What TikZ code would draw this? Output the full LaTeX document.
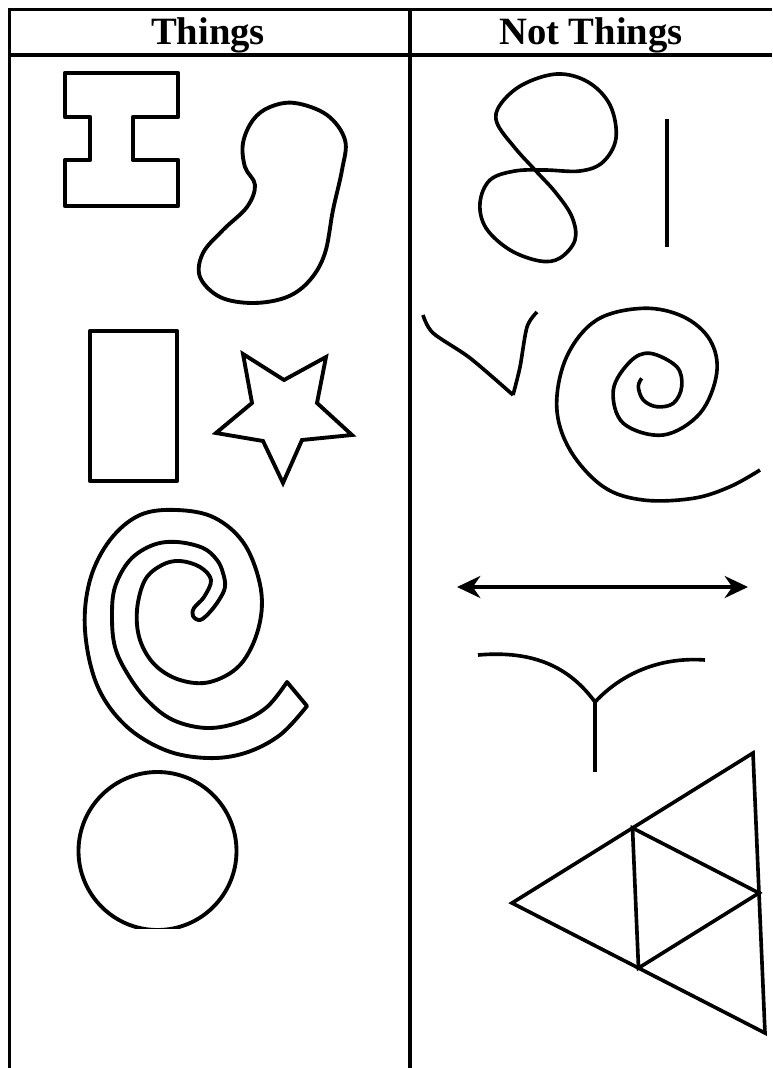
\documentclass[tikz,border=0pt]{standalone}
\usepackage{fontspec}
\setmainfont{Liberation Serif}
\usetikzlibrary{arrows.meta}

\begin{document}
\begin{tikzpicture}[x=0.03cm,y=-0.03cm,
    rule/.style={line width=2.6pt},
    outline/.style={line width=3.3pt,line join=round},
    pen/.style={line width=3.1pt,line join=round},
    head/.style={font=\bfseries\fontsize{33}{38}\selectfont,inner sep=0pt,anchor=base}]
    \useasboundingbox (0,0) rectangle (772,1068);
    % table rules
    \draw[rule] (8,9.5) -- (772,9.5);
    \draw[rule] (8,55) -- (772,55);
    \draw[rule] (9.5,8) -- (9.5,1068);
    \draw[rule] (410,9.5) -- (410,1068);
    \node[head] (things) at (208,45) {Things};
    \node[head] (notthings) at (591,45) {Not Things};
    % things: I-beam
    \draw[outline,line width=3.8pt] (65,73) -- (178,73) -- (178,117) -- (133,117) -- (133,160)
        -- (178,160) -- (178,206) -- (65,206) -- (65,160) -- (90,160) -- (90,117)
        -- (65,117) -- cycle;
    % bean
    \draw[outline] plot[smooth cycle,tension=0.6] coordinates {
        (295,103) (327,115) (345,140) (342,170) (333,210) (325,253) (310,280)
        (287,297) (253,303) (220,297) (200,277) (203,253) (223,230) (247,207)
        (255,185) (245,167) (243,143) (253,120) (270,107)};
    % rectangle and star
    \draw[outline,line width=3.8pt] (90,331) rectangle (177,481);
    \draw[outline,line join=miter] (243,354) -- (284,380) -- (326,357) -- (317,403) -- (352,435)
        -- (302,440) -- (283,483) -- (263,441) -- (216,433) -- (252,403) -- cycle;
    % band spiral
    \draw[outline] plot[smooth,tension=0.6] coordinates {
        (307,706) (280,735) (245,753) (207,758) (165,750) (125,725) (97,685)
        (85,630) (90,580) (110,540) (140,515) (177,510) (215,518) (245,545)
        (261,590) (258,630) (240,665) (210,682) (180,680) (155,665) (140,640)
        (137,610) (145,580) (162,565) (180,561) (200,567) (211,580) (204,597)
        (194,608) (193,616) (200,620) (209,613) (219,600) (225,587) (223,573)
        (217,560) (203,548) (177,542) (153,545) (130,560) (115,587) (112,617)
        (115,647) (127,673) (147,700) (173,720) (207,728) (240,722) (267,707)
        (287,682)} -- cycle;
    % circle, cut off at the bottom
    \begin{scope}
        \clip (0,0) rectangle (400,928);
        \draw[outline] (157.5,851) circle (79);
    \end{scope}
    % not things: figure eight
    \draw[pen] plot[smooth cycle,tension=0.6] coordinates {
        (497,123) (515,148) (535,170) (556,193) (572,217) (575,240) (560,258)
        (540,261) (510,250) (486,228) (480,203) (490,180) (515,171) (545,170)
        (580,171) (603,162) (616,138) (610,105) (588,82) (557,74) (522,85)
        (500,105)};
    \draw[pen] (667,119) -- (667,247);
    % bent line
    \draw[pen] plot[smooth,tension=0.5] coordinates {
        (423,315) (433,333) (470,358) (513,395)};
    \draw[pen] plot[smooth,tension=0.5] coordinates {
        (513,395) (520,367) (527,327) (537,312)};
    % thin spiral
    \draw[pen] plot[smooth,tension=0.6] coordinates {
        (641.7,378.3) (638.3,386.7) (643.3,400) (656.7,406.7) (673.3,403.3)
        (681.7,386.7) (676.7,366.7) (650,353.3) (630,361.7) (613.3,390)
        (623.3,423.3) (663.3,435) (700,413.3) (716.7,373.3) (710,340)
        (683.3,316.7) (643.3,308.3) (596.7,320) (566.7,356.7) (556.7,406.7)
        (570,450) (603.3,486.7) (643.3,500) (693.3,498.3) (730,486.7) (760,470)};
    % double arrow
    \coordinate (al) at (457,587);
    \coordinate (ar) at (748,587);
    \draw[pen,{Stealth[length=7mm,width=6.6mm]}-{Stealth[length=7mm,width=6.6mm]}] (al) -- (ar);
    % forked line
    \coordinate (fork) at (595,702);
    \draw[pen] (478,655) .. controls (535,650) and (570,668) .. (fork);
    \draw[pen] (fork) .. controls (625,670) and (665,657) .. (705,660);
    \draw[pen] (fork) -- (595,772);
    % subdivided triangle
    \draw[pen,line join=miter] (753,753) -- (512,903) -- (765,1033) -- cycle;
    \draw[pen,line join=miter] (632.5,828) -- (759,893) -- (638.5,968) -- cycle;
\end{tikzpicture}
\end{document}
